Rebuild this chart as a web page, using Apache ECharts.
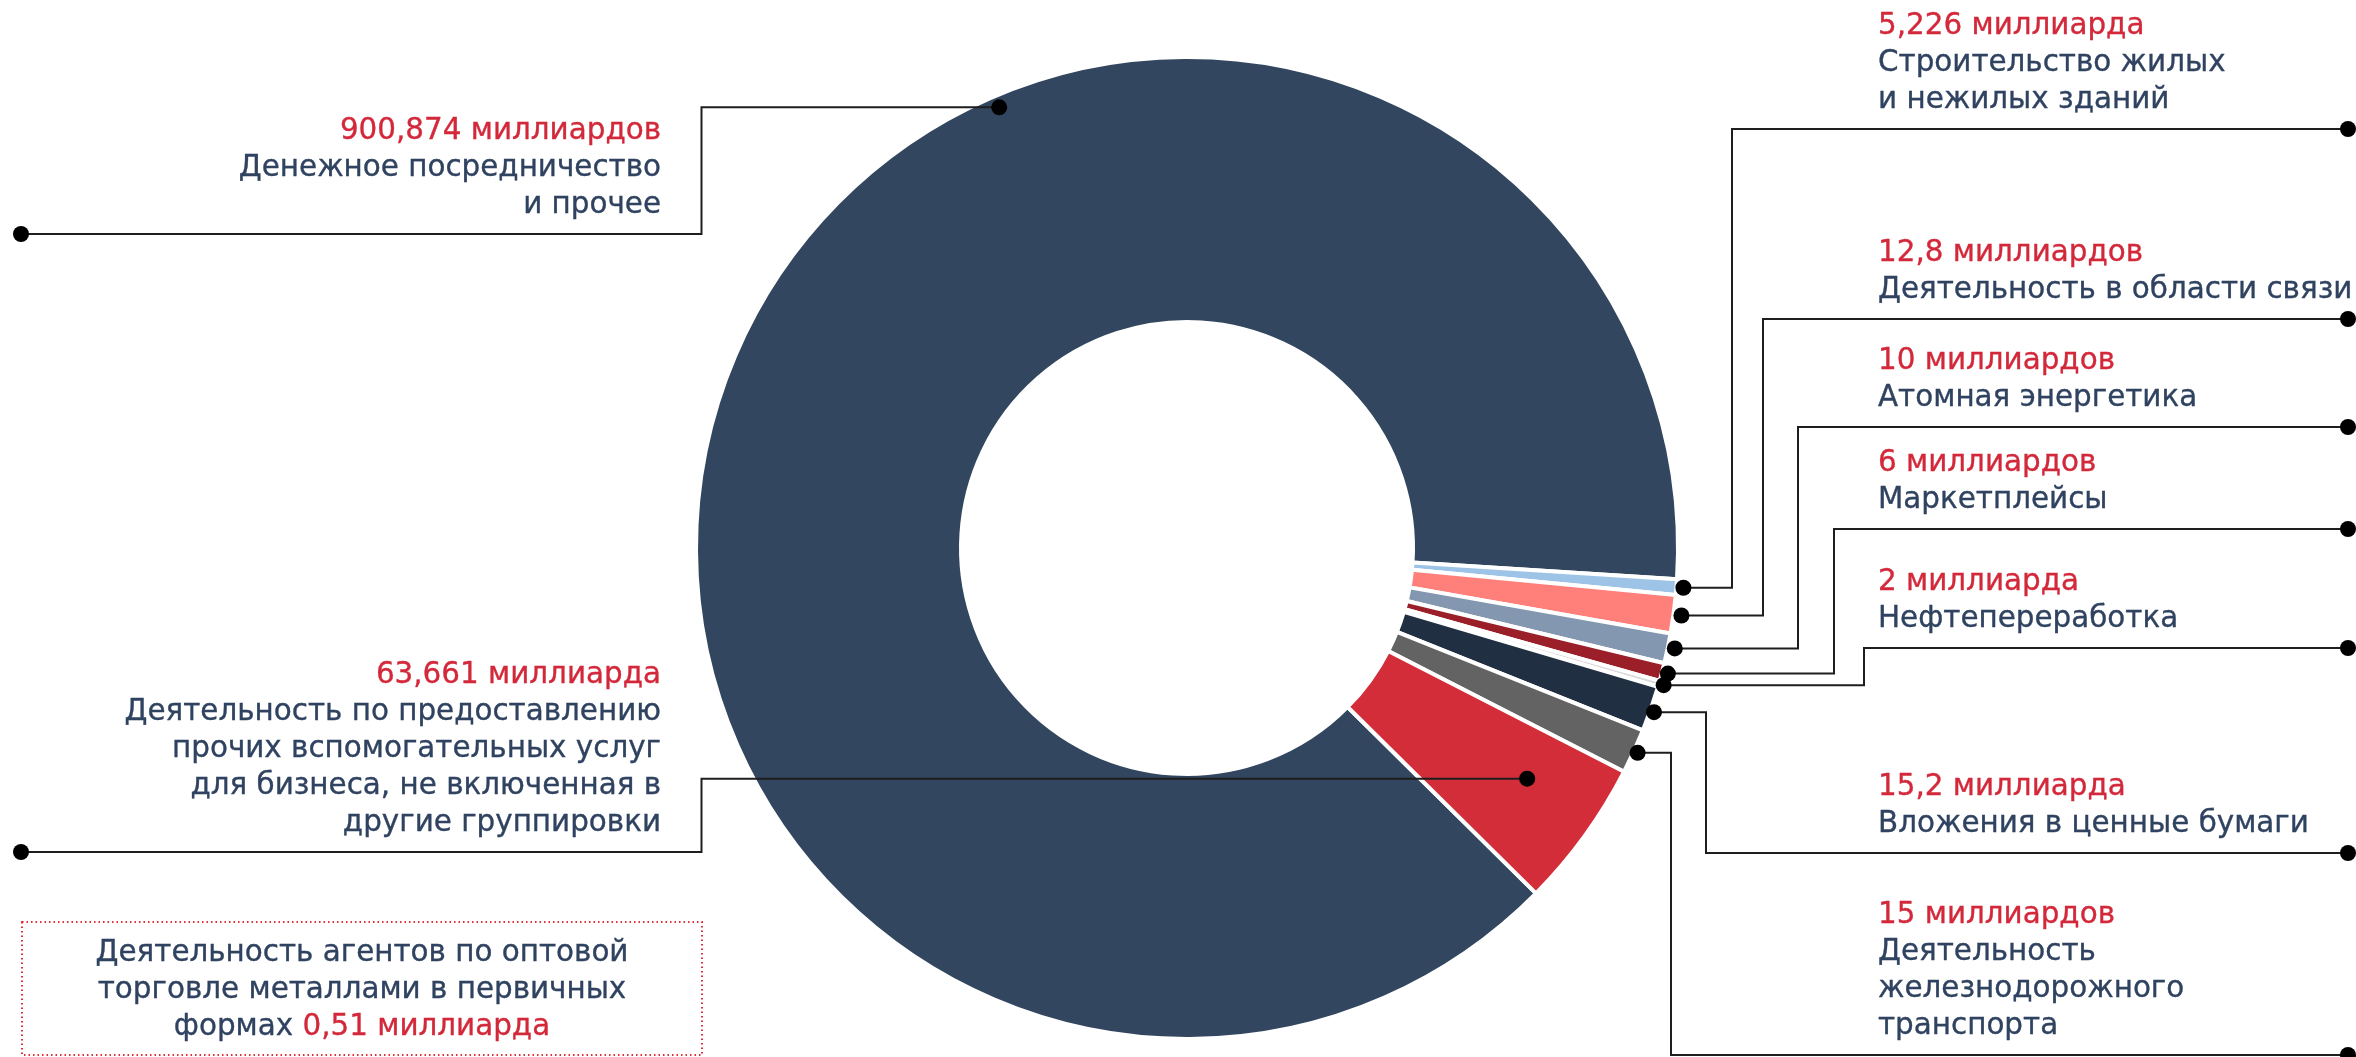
<!DOCTYPE html>
<html><head><meta charset="utf-8">
<script src="https://cdn.jsdelivr.net/npm/echarts@6/dist/echarts.min.js"></script>
<style>html,body{margin:0;padding:0;background:#fff}#chart{width:2356px;height:1057px}</style>
</head><body><div id="chart"></div>
<script>
// ---- DATA ----
const categories = [
  'Денежное посредничество и прочее',
  'Строительство жилых и нежилых зданий',
  'Деятельность в области связи',
  'Атомная энергетика',
  'Маркетплейсы',
  'Нефтепереработка',
  'Вложения в ценные бумаги',
  'Деятельность железнодорожного транспорта',
  'Деятельность по предоставлению прочих вспомогательных услуг для бизнеса, не включенная в другие группировки'
];
// slice sizes, billions (as drawn in the picture)
const values = [900.874, 5.226, 12.8, 10, 6, 2, 15.2, 15, 49.7];
const valueLabels = ['900,874 миллиардов', '5,226 миллиарда', '12,8 миллиардов', '10 миллиардов', '6 миллиардов', '2 миллиарда', '15,2 миллиарда', '15 миллиардов', '63,661 миллиарда'];
const nameLines = [
  ['Денежное посредничество', 'и прочее'],
  ['Строительство жилых', 'и нежилых зданий'],
  ['Деятельность в области связи'],
  ['Атомная энергетика'],
  ['Маркетплейсы'],
  ['Нефтепереработка'],
  ['Вложения в ценные бумаги'],
  ['Деятельность', 'железнодорожного', 'транспорта'],
  ['Деятельность по предоставлению', 'прочих вспомогательных услуг', 'для бизнеса, не включенная в', 'другие группировки']
];
const noteLines = ['Деятельность агентов по оптовой', 'торговле металлами в первичных', 'формах '];
const noteValue = '0,51 миллиарда';

// ---- STYLE / LAYOUT ----
const colors = ['#33465F', '#9DC3E6', '#FF7F7A', '#8497B0', '#9B1F28', '#D9D9D9', '#212F42', '#636363', '#D22D38'];
const NAVY = '#2F4260', RED = '#D3283A', LINE = '#1E1E1E';
const FONT = '29.4px "DejaVu Sans"';
const CX = 1187, CY = 548, R = 491, R0 = 226;
const PITCH = 37;
// per slice: side, anchor (fraction of slice angle, radius), elbow x, line y
const anchors = [
  {side: 'L', f: 0.634, r: 479, ex: 701.5, ly: 234},
  {side: 'R', f: 0.5, r: 498, ex: 1732, ly: 129},
  {side: 'R', f: 0.5, r: 499, ex: 1763, ly: 319},
  {side: 'R', f: 0.45, r: 498, ex: 1798, ly: 427},
  {side: 'R', f: 0.5, r: 497, ex: 1834, ly: 529},
  {side: 'R', f: 0.5, r: 496, ex: 1864, ly: 648},
  {side: 'R', f: 0.55, r: 495, ex: 1706, ly: 853},
  {side: 'R', f: 0.5, r: 495, ex: 1671, ly: 1055},
  {side: 'L', f: 0.40, r: 411, ex: 701.5, ly: 852}
];

const chart = echarts.init(document.getElementById('chart'), null, {renderer: 'canvas'});
chart.setOption({
  animation: false,
  backgroundColor: '#fff',
  series: [{
    type: 'pie',
    z: 1,
    center: [CX, CY],
    radius: [R0, R],
    startAngle: -44.7,
    clockwise: true,
    silent: true,
    label: {show: false},
    labelLine: {show: false},
    itemStyle: {borderColor: '#fff', borderWidth: 4},
    data: categories.map((n, i) => ({name: n, value: values[i], itemStyle: {color: colors[i]}}))
  }]
});

// slice geometry from the library's layout (fallback: same proportional math)
let layouts = null;
try {
  const d = chart.getModel().getSeriesByIndex(0).getData();
  layouts = values.map((v, i) => d.getItemLayout(i));
  if (!layouts[0] || layouts[0].startAngle == null) layouts = null;
} catch (e) { layouts = null; }
if (!layouts) {
  const tot = values.reduce((a, b) => a + b, 0);
  let a = 44.7 * Math.PI / 180;
  layouts = values.map(v => { const s = a; a += v / tot * Math.PI * 2; return {startAngle: s, endAngle: a}; });
}

const meas = document.createElement('canvas').getContext('2d');
meas.font = FONT;
const g = [];
function txt(s, x, baseline, color, align) {
  g.push({type: 'text', silent: true, z: 100, style: {text: s, x: x, y: baseline - 10, font: FONT, fill: color, stroke: color, lineWidth: 0.35, align: align, verticalAlign: 'middle'}});
}
function dot(x, y) {
  g.push({type: 'circle', silent: true, z: 101, shape: {cx: x, cy: y, r: 8}, style: {fill: '#000'}});
}
anchors.forEach((an, i) => {
  const L = layouts[i];
  const ang = L.startAngle + (L.endAngle - L.startAngle) * an.f;
  const px = CX + an.r * Math.cos(ang), py = CY + an.r * Math.sin(ang);
  const farX = an.side === 'R' ? 2348 : 21;
  g.push({type: 'polyline', silent: true, z: 100, shape: {points: [[px, py], [an.ex, py], [an.ex, an.ly], [farX, an.ly]]},
          style: {stroke: LINE, lineWidth: 2, fill: null}});
  dot(px, py); dot(farX, an.ly);
  const lines = [valueLabels[i]].concat(nameLines[i]);
  const lastBase = an.ly - 19;
  lines.forEach((s, k) => {
    const b = lastBase - (lines.length - 1 - k) * PITCH;
    if (an.side === 'R') txt(s, 1878, b, k === 0 ? RED : NAVY, 'left');
    else txt(s, 661, b, k === 0 ? RED : NAVY, 'right');
  });
});
// note box
g.push({type: 'rect', silent: true, z: 100, shape: {x: 22, y: 922, width: 680, height: 133},
        style: {fill: null, stroke: '#E0303A', lineWidth: 2, lineDash: [1.5, 3]}});
const noteBase = [963, 1000, 1037];
txt(noteLines[0], 362, noteBase[0], NAVY, 'center');
txt(noteLines[1], 362, noteBase[1], NAVY, 'center');
const w1 = meas.measureText(noteLines[2]).width, w2 = meas.measureText(noteValue).width;
const x0 = 362 - (w1 + w2) / 2;
txt(noteLines[2], x0, noteBase[2], NAVY, 'left');
txt(noteValue, x0 + w1, noteBase[2], RED, 'left');

chart.setOption({graphic: {elements: g}});
</script></body></html>
